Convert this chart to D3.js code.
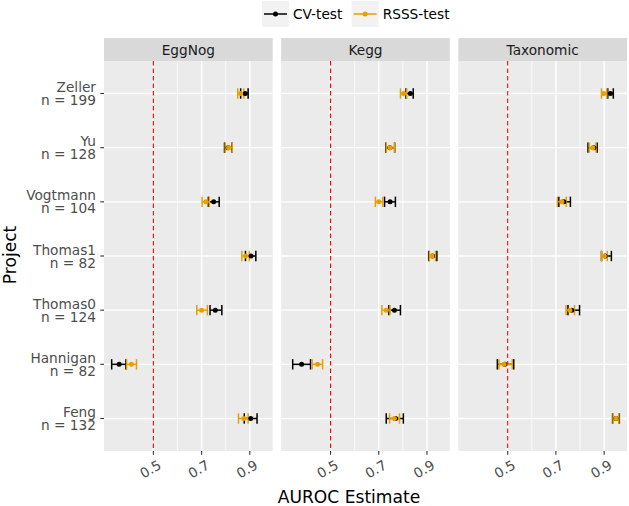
<!DOCTYPE html>
<html><head><meta charset="utf-8">
<script src="https://cdn.jsdelivr.net/npm/d3@7"></script>
<style>body{margin:0;background:#fff;} text{font-family:"DejaVu Sans",sans-serif;}</style>
</head><body>
<svg id="chart" width="629" height="506"></svg>
<script>
const projects = ["Zeller","Yu","Vogtmann","Thomas1","Thomas0","Hannigan","Feng"];
const sizes = [199,128,104,82,124,82,132];
const facets = ["EggNog","Kegg","Taxonomic"];
const seriesNames = ["CV-test","RSSS-test"];
const xTicks = [0.5,0.7,0.9];
const xMinor = [0.6,0.8];
const refLine = 0.5;

// EggNog
const eggCvEst = [0.881,0.810,0.750,0.905,0.757,0.358,0.904];
const eggCvLo  = [0.862,0.795,0.728,0.882,0.735,0.327,0.877];
const eggCvHi  = [0.893,0.826,0.773,0.925,0.784,0.386,0.930];
const eggRsEst = [0.862,0.812,0.718,0.883,0.700,0.409,0.875];
const eggRsLo  = [0.850,0.798,0.702,0.867,0.680,0.389,0.853];
const eggRsHi  = [0.875,0.827,0.732,0.898,0.724,0.430,0.893];
// Kegg
const keggCvEst = [0.831,0.746,0.747,0.923,0.765,0.380,0.770];
const keggCvLo  = [0.813,0.729,0.724,0.907,0.742,0.343,0.731];
const keggCvHi  = [0.843,0.766,0.769,0.941,0.790,0.417,0.802];
const keggRsEst = [0.803,0.747,0.700,0.921,0.731,0.446,0.765];
const keggRsLo  = [0.790,0.731,0.686,0.910,0.713,0.424,0.745];
const keggRsHi  = [0.816,0.765,0.717,0.935,0.747,0.467,0.786];
// Taxonomic
const taxCvEst = [0.926,0.857,0.733,0.904,0.766,0.488,0.949];
const taxCvLo  = [0.915,0.833,0.712,0.889,0.750,0.457,0.935];
const taxCvHi  = [0.938,0.871,0.760,0.930,0.798,0.525,0.963];
const taxRsEst = [0.898,0.853,0.725,0.901,0.758,0.485,0.949];
const taxRsLo  = [0.889,0.838,0.706,0.889,0.742,0.464,0.937];
const taxRsHi  = [0.911,0.866,0.743,0.913,0.777,0.519,0.961];

const colors = {"CV-test":"#000000","RSSS-test":"#E69F00"};

const facetData = {
  EggNog:    {"CV-test":[eggCvEst,eggCvLo,eggCvHi], "RSSS-test":[eggRsEst,eggRsLo,eggRsHi]},
  Kegg:      {"CV-test":[keggCvEst,keggCvLo,keggCvHi], "RSSS-test":[keggRsEst,keggRsLo,keggRsHi]},
  Taxonomic: {"CV-test":[taxCvEst,taxCvLo,taxCvHi], "RSSS-test":[taxRsEst,taxRsLo,taxRsHi]}
};
const rows = [];
facets.forEach(f => seriesNames.forEach(s => {
  const [e,l,h] = facetData[f][s];
  projects.forEach((p,i) => rows.push({facet:f, series:s, project:p, est:e[i], lo:l[i], hi:h[i]}));
}));

const svg = d3.select("#chart");
const pLeft = 104, pRight = 627, gap = 8.5, pTop = 61, pBottom = 451, stripTop = 38;
const pw = (pRight - pLeft - 2*gap)/3;

const allVals = rows.flatMap(r => [r.lo, r.hi]);
const [mn, mx] = d3.extent(allVals);
const pad = (mx - mn) * 0.05;
const x = d3.scaleLinear().domain([mn - pad, mx + pad]).range([0, pw]);
const y = d3.scalePoint().domain(projects).range([pTop, pBottom]).padding(0.6);

facets.forEach((f, fi) => {
  const ox = pLeft + fi*(pw + gap);
  const g = svg.append("g").attr("transform", `translate(${ox},0)`);
  g.append("rect").attr("x",0).attr("y",pTop).attr("width",pw).attr("height",pBottom-pTop).attr("fill","#ebebeb");
  g.append("rect").attr("x",0).attr("y",stripTop).attr("width",pw).attr("height",pTop-stripTop).attr("fill","#d9d9d9");
  g.append("text").attr("x",pw/2).attr("y",(stripTop+pTop)/2).attr("text-anchor","middle")
    .attr("dominant-baseline","central").attr("font-size","13.7px").attr("fill","#1a1a1a").text(f);
  g.selectAll(".mn").data(xMinor).enter().append("line")
    .attr("x1",d=>x(d)).attr("x2",d=>x(d)).attr("y1",pTop).attr("y2",pBottom)
    .attr("stroke","#fff").attr("stroke-width",0.7);
  g.selectAll(".mj").data(xTicks).enter().append("line")
    .attr("x1",d=>x(d)).attr("x2",d=>x(d)).attr("y1",pTop).attr("y2",pBottom)
    .attr("stroke","#fff").attr("stroke-width",1.4);
  g.selectAll(".hy").data(projects).enter().append("line")
    .attr("x1",0).attr("x2",pw).attr("y1",d=>y(d)).attr("y2",d=>y(d))
    .attr("stroke","#fff").attr("stroke-width",1.4);
  g.append("line").attr("x1",x(refLine)).attr("x2",x(refLine)).attr("y1",pTop).attr("y2",pBottom)
    .attr("stroke","#ff0000").attr("stroke-width",1.1).attr("stroke-dasharray","4.5,3");
  const ax = g.append("g").attr("transform",`translate(0,${pBottom})`);
  ax.selectAll("line").data(xTicks).enter().append("line")
    .attr("x1",d=>x(d)).attr("x2",d=>x(d)).attr("y1",0).attr("y2",3.7)
    .attr("stroke","#333").attr("stroke-width",1.1);
  ax.selectAll("text").data(xTicks).enter().append("text")
    .attr("transform",d=>`translate(${x(d)-3},18) rotate(-30)`)
    .attr("text-anchor","middle").attr("dominant-baseline","central")
    .attr("font-size","13.7px").attr("fill","#4d4d4d").text(d=>d3.format(".1f")(d));
  const fr = rows.filter(r => r.facet === f);
  const eb = g.append("g");
  fr.forEach(r => {
    const c = colors[r.series], yy = y(r.project);
    eb.append("line").attr("x1",x(r.lo)).attr("x2",x(r.hi)).attr("y1",yy).attr("y2",yy).attr("stroke",c).attr("stroke-width",1.5);
    eb.append("line").attr("x1",x(r.lo)).attr("x2",x(r.lo)).attr("y1",yy-5.2).attr("y2",yy+5.2).attr("stroke",c).attr("stroke-width",1.5);
    eb.append("line").attr("x1",x(r.hi)).attr("x2",x(r.hi)).attr("y1",yy-5.2).attr("y2",yy+5.2).attr("stroke",c).attr("stroke-width",1.5);
  });
  g.append("g").selectAll("circle").data(fr).enter().append("circle")
    .attr("cx",d=>x(d.est)).attr("cy",d=>y(d.project)).attr("r",2.5).attr("fill",d=>colors[d.series]);
});

const ya = svg.append("g");
projects.forEach((p,i) => {
  const yy = y(p);
  ya.append("line").attr("x1",pLeft-3.7).attr("x2",pLeft).attr("y1",yy).attr("y2",yy).attr("stroke","#333").attr("stroke-width",1.1);
  const t = ya.append("text").attr("text-anchor","end").attr("font-size","13.7px").attr("fill","#4d4d4d");
  t.append("tspan").attr("x",96).attr("y",yy-6.4).attr("dominant-baseline","central").text(p);
  t.append("tspan").attr("x",96).attr("y",yy+6.5).attr("dominant-baseline","central").text("n = " + sizes[i]);
});

svg.append("text").attr("x",349).attr("y",497).attr("text-anchor","middle").attr("dominant-baseline","central")
  .attr("font-size","17.1px").attr("fill","#000").text("AUROC Estimate");
svg.append("text").attr("transform","translate(10,255) rotate(-90)").attr("text-anchor","middle")
  .attr("dominant-baseline","central").attr("font-size","17.1px").attr("fill","#000").text("Project");

const legX = [262, 351.7];
seriesNames.forEach((s,i) => {
  const lg = svg.append("g").attr("transform",`translate(${legX[i]},1)`);
  lg.append("rect").attr("width",27).attr("height",26).attr("fill","#f2f2f2");
  lg.append("line").attr("x1",2).attr("x2",25).attr("y1",13).attr("y2",13).attr("stroke",colors[s]).attr("stroke-width",1.5);
  lg.append("circle").attr("cx",13.5).attr("cy",13).attr("r",2.5).attr("fill",colors[s]);
  lg.append("text").attr("x",31).attr("y",13).attr("dominant-baseline","central").attr("font-size","13.7px").attr("fill","#000").text(s);
});
</script>
</body></html>
